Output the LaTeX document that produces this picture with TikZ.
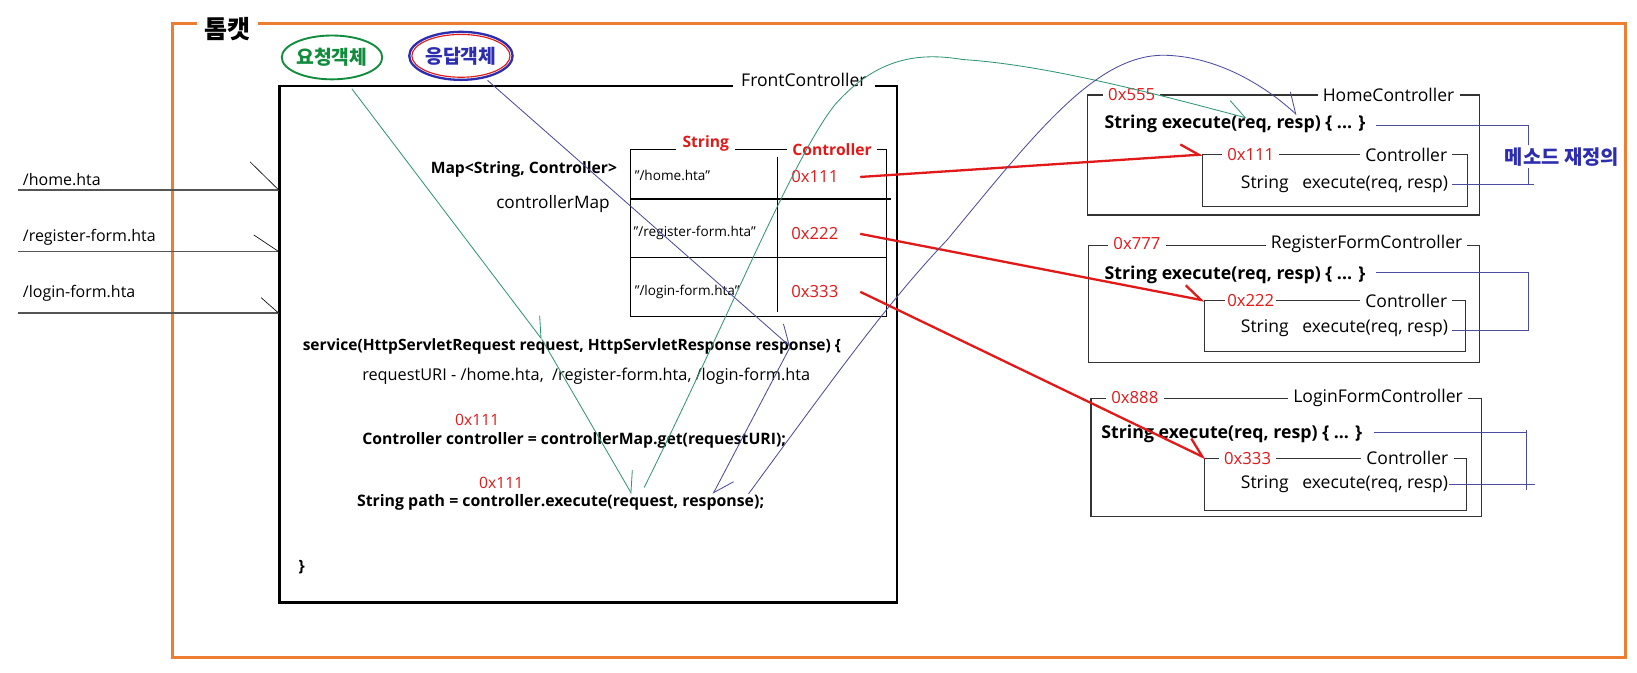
\documentclass[tikz,border=0pt]{standalone}
\usepackage{fontspec}
\setmainfont{Open Sans}
\newfontfamily\krfont{Noto Sans CJK KR}
\usetikzlibrary{arrows.meta,shapes.geometric}
\definecolor{orangeF}{RGB}{237,125,49}
\definecolor{greenK}{RGB}{16,140,60}
\definecolor{blueK}{RGB}{45,45,175}
\definecolor{redT}{RGB}{225,25,25}
\definecolor{tealL}{RGB}{50,150,115}
\definecolor{blueL}{RGB}{75,75,160}
\definecolor{grayL}{RGB}{85,85,85}
\newcommand\fsz[1]{\fontsize{#1}{#1}\selectfont}
\newcommand\qq{\symbol{34}}
\begin{document}
\begin{tikzpicture}[x=1pt,y=-1pt,
  every node/.style={inner sep=0pt,outer sep=0pt},
  txt/.style={font=\fsz{15}},
  rtxt/.style={font=\fsz{16.8}},
  btxt/.style={font=\fsz{15}\bfseries},
  rbtxt/.style={font=\fsz{17}\bfseries},
  small/.style={font=\fsz{13}},
  redv/.style={font=\fsz{15}, text=redT},
  rredv/.style={font=\fsz{16}, text=redT},
  gaplbl/.style={fill=white, inner xsep=5pt, inner ysep=2pt},
  boxline/.style={draw=black!80, line width=1.1},
  thinteal/.style={tealL, line width=0.8, -{Straight Barb[harpoon,length=18pt,width=24pt]}},
  thinblue/.style={blueL, line width=0.8, -{Straight Barb[harpoon,length=18pt,width=24pt]}},
  redarrow/.style={redT, line width=2.2, -{Straight Barb[harpoon,length=17pt,width=22pt]}},
  inline/.style={grayL, line width=1.4},
  tickline/.style={black, line width=0.6},
  brace/.style={blueL, line width=0.9},
]
\fill[white] (0,0) rectangle (1568,644.6);
\useasboundingbox (0,0) rectangle (1568,644.6);

% Tomcat frame
\draw[orangeF, line width=2.5] (165,22.5) rectangle (1557,629.5);
\node[fill=white, inner xsep=7pt, inner ysep=2pt, font=\krfont\fsz{24}\bfseries] (tomcat) at (218,28) {톰캣};

% request / response objects
\node[ellipse, draw=greenK, line width=1.8, minimum width=92pt, minimum height=42pt, text=greenK, font=\krfont\fsz{18.5}\bfseries] (reqobj) at (318,55) {요청객체};
\node[ellipse, draw=blueK, line width=2.2, minimum width=99pt, minimum height=46pt, text=blueK, font=\krfont\fsz{18.5}\bfseries] (respobj) at (441.5,53.5) {응답객체};
\draw[redT, line width=1.1] (respobj.center) ellipse [x radius=47pt, y radius=20.5pt];

% FrontController box
\draw[black, line width=2.5] (268,82.5) rectangle (859,577);
\node[gaplbl, inner xsep=8pt, inner ysep=4pt, font=\fsz{16.8}] (fclabel) at (770,77) {FrontController};

% incoming request URIs
\coordinate (in1) at (267,182);
\coordinate (in2) at (267,241);
\coordinate (in3) at (267,300);
\node[font=\fsz{15.3}, anchor=west] (u1) at (22,172) {/home.hta};
\node[font=\fsz{15.3}, anchor=west] (u2) at (22,227) {/register-form.hta};
\node[font=\fsz{15.3}, anchor=west] (u3) at (22,281) {/login-form.hta};
\draw[inline] (17.5,182) -- (in1);
\draw[inline] (17.5,241) -- (in2);
\draw[inline] (17.5,300) -- (in3);
\draw[tickline] (239.5,155) -- (in1);
\draw[tickline] (243,225) -- (in2);
\draw[tickline] (250,285) -- (in3);

% Map
\node[btxt, anchor=east] (maptype) at (591,162) {Map<String, Controller>};
\node[font=\fsz{16.5}, anchor=east] (mapname) at (584,195.5) {controllerMap};

% table
\draw[line width=1.1] (604,143) rectangle (849,303.5);
\draw[line width=1.1] (604,190.6) -- (853,190.6);
\draw[line width=1.1] (604,246.5) -- (849,246.5);
\draw[line width=1.1] (745,150) -- (745,299);
\node[gaplbl, btxt, text=redT, inner xsep=6pt] (thstr) at (676,137.5) {String};
\node[gaplbl, btxt, text=redT, inner xsep=5pt] (thctrl) at (797,143) {Controller};
\node[small, anchor=west] (k1) at (608,168) {\qq/home.hta\qq};
\node[small, anchor=west] (k2) at (607,223.5) {\qq/register-form.hta\qq};
\node[small, anchor=west] (k3) at (608,280) {\qq/login-form.hta\qq};
\node[redv, font=\fsz{16}, anchor=west] (v1) at (758,169.5) {0x111};
\node[redv, font=\fsz{16}, anchor=west] (v2) at (758,224) {0x222};
\node[redv, font=\fsz{16}, anchor=west] (v3) at (758,279.5) {0x333};

% service code
\node[font=\fsz{14.9}\bfseries, anchor=west] (svc) at (290,332) {service(HttpServletRequest request, HttpServletResponse response) \{};
\node[font=\fsz{15.6}, anchor=west] (uri) at (347,360) {requestURI - /home.hta,\ \ /register-form.hta, /login-form.hta};
\node[redv, anchor=west] (a1) at (436,402) {0x111};
\node[font=\fsz{15.1}\bfseries, anchor=west] (getline) at (347,421.5) {Controller controller = controllerMap.get(requestURI);};
\node[redv, anchor=west] (a2) at (459,463) {0x111};
\node[font=\fsz{15.2}\bfseries, anchor=west] (execline) at (342,481.5) {String path = controller.execute(request, response);};
\node[btxt, anchor=west] (close) at (286,543) {\}};

% ---------- HomeController ----------
\draw[boxline] (1042,91) rectangle (1417,206);
\node[gaplbl, rredv] (h0) at (1084,91) {0x555};
\node[gaplbl, rtxt] (hname) at (1330,91) {HomeController};
\node[rbtxt, anchor=west] (hexec) at (1058,119) {String execute(req, resp) \{ ... \}};
\draw[boxline] (1152,148) rectangle (1406,197.5);
\node[gaplbl, rredv] (h1) at (1198,148) {0x111};
\node[gaplbl, rtxt] (hctrl) at (1347,148) {Controller};
\node[rtxt, anchor=east] (hsub) at (1387,176) {String\ \ \ execute(req, resp)};
\draw[brace] (1318,120) -- (1464,120) -- (1464,177);
\draw[brace] (1391,177) -- (1469,177);
\node[fill=white, inner sep=2pt, text=blueK, font=\krfont\fsz{19}\bfseries] (override) at (1496,150) {메소드 재정의};

% ---------- RegisterFormController ----------
\draw[boxline] (1043,235) rectangle (1417,347);
\node[gaplbl, rredv] (r0) at (1089,233) {0x777};
\node[gaplbl, rtxt] (rname) at (1309,234) {RegisterFormController};
\node[rbtxt, anchor=west] (rexec) at (1058,263) {String execute(req, resp) \{ ... \}};
\draw[boxline] (1154,288) rectangle (1404,337);
\node[gaplbl, rredv, inner xsep=2pt] (r1) at (1198,288) {0x222};
\node[gaplbl, rtxt] (rctrl) at (1347,288) {Controller};
\node[rtxt, anchor=east] (rsub) at (1387,314) {String\ \ \ execute(req, resp)};
\draw[brace] (1318,261) -- (1464,261) -- (1464,317) -- (1391,317);

% ---------- LoginFormController ----------
\draw[boxline] (1045,382) rectangle (1419,495);
\node[gaplbl, rredv] (l0) at (1087,381) {0x888};
\node[gaplbl, rtxt] (lname) at (1320,381) {LoginFormController};
\node[rbtxt, anchor=west] (lexec) at (1055,416) {String execute(req, resp) \{ ... \}};
\draw[boxline] (1154,439) rectangle (1405,489);
\node[gaplbl, rredv] (l1) at (1195,439) {0x333};
\node[gaplbl, rtxt] (lctrl) at (1348,439) {Controller};
\node[rtxt, anchor=east] (lsub) at (1387,464) {String\ \ \ execute(req, resp)};
\draw[brace] (1316,414) -- (1462,414);
\draw[brace] (1462,412) -- (1462,469);
\draw[brace] (1388,464) -- (1470,464);

% ---------- red reference arrows ----------
\coordinate (hin) at (1152,148);
\coordinate (rin) at (1154,288);
\coordinate (lin) at (1155,439);
\draw[redarrow] ([xshift=21pt]v1.east) -- (hin);
\draw[redarrow] ([xshift=21pt]v2.east) -- (rin);
\draw[redarrow] ([xshift=21pt]v3.east) -- (lin);

% ---------- request / response flow ----------
\coordinate (reqStart) at (337,85);
\coordinate (svcReq) at (519,325);
\coordinate (execReq) at (605,473);
\coordinate (execReq2) at (617,467);
\coordinate (respStart) at (467,77);
\coordinate (svcResp) at (757,332);
\coordinate (execResp) at (683,473);
\coordinate (execResp2) at (717,473);
\coordinate (homeReq) at (1194,113);
\coordinate (homeResp) at (1242,110);

\draw[thinteal] (reqStart) -- (svcReq);
\draw[thinteal] (svcReq) -- (execReq);
\draw[thinteal] (execReq2) .. controls (700,300) and (760,150) .. (800,100) .. controls (840,55) and (880,50) .. (922,57) .. controls (1000,62) and (1100,88) .. (homeReq);

\draw[thinblue] (respStart) -- (svcResp);
\draw[thinblue] (svcResp) -- (execResp);
\draw[thinblue] (execResp2) .. controls (800,360) and (850,290) .. (907,230) .. controls (990,130) and (1050,50) .. (1118,53) .. controls (1170,55) and (1215,85) .. (homeResp);
\end{tikzpicture}
\end{document}
